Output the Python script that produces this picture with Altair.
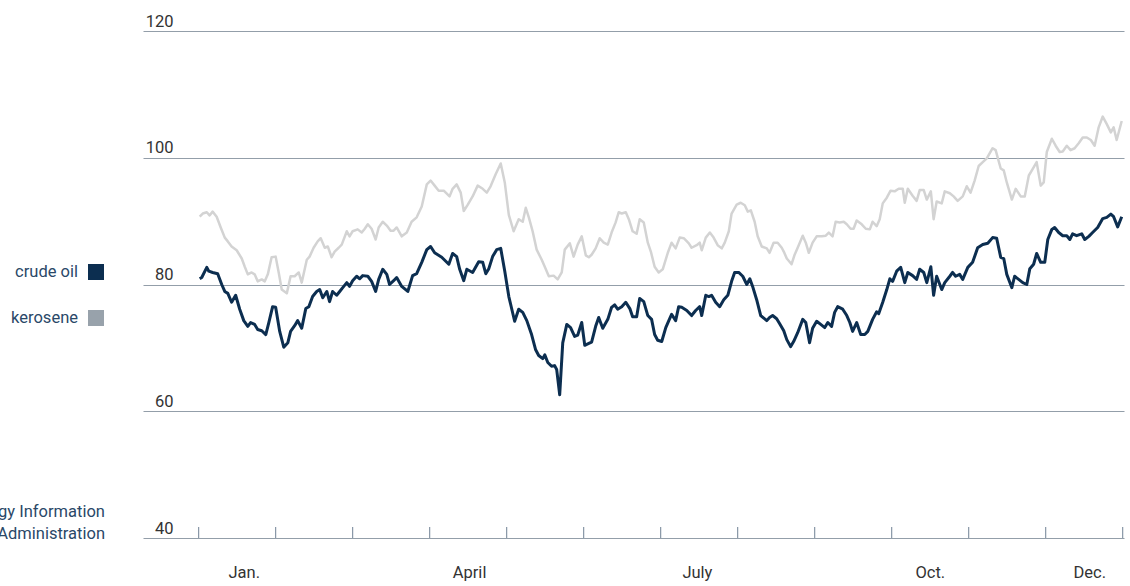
import altair as alt
import pandas as pd

# ---- data ----
crude_day = [0.4, 1.2, 3.2, 4.0, 5.5, 7.5, 9.1, 10.3, 11.5, 13.0, 14.6, 16.2, 17.8, 19.4, 20.5, 22.1, 23.3, 24.9,
             26.5, 27.7, 29.2, 30.4, 32.0, 33.6, 35.2, 36.3, 37.9, 39.1, 40.7, 42.3, 43.5, 45.0, 46.6, 47.8, 49.0,
             50.6, 51.7, 52.9, 54.5, 55.7, 56.9, 58.5, 59.6, 60.8, 62.4, 63.6, 64.8, 66.8, 68.3, 69.9, 71.1, 72.7,
             74.3, 75.4, 77.0, 78.2, 80.2, 82.6, 84.5, 86.1, 88.1, 90.1, 91.6, 93.2, 96.0, 98.8, 100.3, 101.9,
             103.1, 104.7, 105.9, 108.2, 110.6, 112.2, 113.4, 114.6, 116.1, 117.7, 119.3, 120.9, 122.5, 124.8,
             126.4, 128.0, 129.6, 131.5, 133.1, 134.3, 135.9, 136.7, 137.9, 139.4, 140.6, 141.4, 142.6, 143.8,
             145.4, 146.9, 148.5, 149.7, 151.3, 152.5, 154.1, 155.2, 156.8, 158.0, 159.6, 161.6, 163.1, 164.3,
             165.5, 167.1, 168.7, 170.3, 171.4, 173.0, 174.2, 175.8, 177.4, 178.9, 180.1, 181.3, 182.9, 184.5,
             185.7, 186.8, 188.4, 189.6, 190.8, 192.8, 194.7, 196.3, 197.9, 198.7, 200.3, 201.5, 202.6, 204.2,
             205.8, 207.4, 209.0, 210.5, 211.7, 213.3, 214.9, 216.5, 217.7, 218.8, 220.4, 222.0, 224.4, 225.5,
             226.7, 228.3, 229.5, 231.1, 232.3, 233.8, 235.0, 236.6, 238.6, 239.8, 241.3, 242.5, 244.1, 245.7,
             247.3, 248.5, 250.0, 251.2, 252.4, 254.4, 256.0, 257.2, 258.3, 259.9, 261.5, 263.1, 264.3, 266.2,
             267.8, 268.6, 270.2, 271.8, 273.0, 274.1, 275.7, 277.3, 278.9, 280.1, 282.0, 283.6, 284.8, 286.4,
             287.6, 289.2, 290.3, 291.5, 293.5, 294.7, 296.7, 297.8, 299.0, 300.6, 301.8, 303.8, 305.7, 307.7,
             309.7, 311.7, 313.6, 315.2, 316.8, 318.0, 319.2, 321.2, 322.3, 323.9, 325.5, 327.1, 328.3, 329.8,
             331.0, 332.6, 334.2, 335.4, 337.0, 338.1, 339.7, 341.3, 342.9, 344.1, 345.2, 346.8, 348.8, 350.0,
             351.6, 353.1, 355.1, 357.1, 358.7, 360.3, 361.4, 363.0, 364.6]
crude_val = [80.9, 81.1, 82.7, 82.1, 81.9, 81.7, 80.0, 78.9, 78.6, 77.2, 78.3, 76.1, 74.3, 73.4, 74.0, 73.7, 72.9, 72.7,
             72.1, 74.0, 76.5, 76.4, 72.6, 70.1, 70.8, 72.6, 73.5, 74.3, 73.1, 76.2, 76.5, 78.1, 78.9, 79.2, 77.9,
             78.9, 77.3, 78.9, 78.3, 78.9, 79.5, 80.3, 79.7, 80.6, 81.3, 80.9, 81.4, 81.3, 80.5, 78.9, 80.8, 82.4,
             81.6, 80.0, 80.6, 81.1, 79.7, 78.9, 81.4, 81.7, 83.5, 85.5, 86.0, 85.0, 84.3, 83.2, 84.9, 84.4,
             82.4, 80.6, 82.4, 81.9, 83.6, 83.5, 81.7, 82.5, 84.4, 85.5, 85.7, 82.1, 78.1, 74.2,
             76.1, 75.6, 74.3, 72.1, 69.7, 68.8, 68.3, 68.9, 67.7, 67.1, 67.2, 66.6, 62.6, 70.8,
             73.7, 73.2, 71.8, 72.0, 74.0, 70.4, 70.7, 70.9, 73.4, 74.8, 73.1, 74.5, 76.4, 76.8,
             76.1, 76.5, 77.2, 76.2, 74.9, 74.9, 77.8, 77.3, 75.1, 74.5, 72.1, 71.2, 71.0, 73.2,
             74.3, 75.3, 74.3, 76.5, 76.4, 75.9, 75.1, 75.9, 76.5, 75.1, 78.3, 78.1, 78.3, 77.2,
             76.5, 77.6, 78.3, 80.5, 81.9, 81.9, 81.3, 80.0, 80.9, 79.7, 77.6, 75.1, 74.3, 74.8,
             75.1, 74.6, 73.8, 72.7, 71.3, 70.2, 71.0, 72.4, 74.5, 74.0, 70.8, 73.1, 74.2, 73.7,
             73.2, 74.0, 73.4, 75.6, 76.5, 76.1, 75.1, 74.0, 72.6, 74.0, 72.1, 72.1, 72.6, 74.5,
             75.7, 75.4, 77.2, 79.2, 80.9, 80.5, 82.1, 82.7, 80.3, 81.9, 81.4, 80.8, 82.4, 81.9,
             80.3, 82.8, 78.3, 81.3, 79.2, 80.3, 81.3, 81.9, 81.3, 81.6, 80.8, 82.7, 83.5, 85.8,
             86.3, 86.5, 87.4, 87.3, 84.3, 84.1, 81.6, 79.5, 81.3, 80.8, 80.3, 80.0, 82.5, 83.2,
             84.9, 83.5, 83.5, 87.1, 88.7, 89.0, 88.2, 87.7, 87.7, 87.1, 88.0, 87.7, 88.0, 87.1,
             87.6, 88.2, 89.0, 90.4, 90.6, 91.1, 90.7, 89.1, 90.7]

kero_day = [0.4, 1.6, 3.2, 4.3, 5.5, 7.1, 8.7, 10.3, 11.5, 13.0, 15.0, 17.0, 18.2, 19.4, 20.9, 22.1, 23.3, 24.9,
            26.1, 27.3, 28.8, 30.4, 31.6, 32.8, 34.8, 36.3, 37.9, 39.5, 40.7, 42.7, 43.8, 45.4, 47.0, 48.2, 49.8,
            51.0, 52.5, 53.7, 55.3, 56.5, 58.5, 59.6, 60.8, 62.8, 64.4, 65.6, 66.8, 68.3, 69.9, 71.1, 72.7, 74.3,
            75.8, 77.0, 78.2, 80.2, 82.2, 84.1, 86.1, 88.1, 90.1, 91.6, 93.2, 94.8, 96.8, 99.1, 100.3, 101.9,
            103.5, 104.7, 106.3, 108.2, 110.2, 112.2, 113.8, 115.3, 117.3, 119.3, 120.9, 122.5, 124.4, 126.4,
            128.0, 129.2, 130.4, 131.9, 133.5, 135.5, 136.7, 138.3, 140.2, 141.8, 143.4, 144.6, 146.6, 148.1,
            149.7, 151.3, 152.9, 154.1, 155.2, 156.8, 158.4, 160.0, 161.6, 163.1, 164.7, 165.9, 167.1, 168.7,
            169.9, 171.4, 173.0, 174.2, 175.8, 177.4, 178.6, 180.1, 181.7, 183.3, 185.3, 186.8, 188.4, 190.0,
            191.6, 193.6, 194.7, 196.7, 197.9, 198.7, 200.3, 201.9, 203.4, 205.0, 206.6, 207.8, 209.4, 210.5,
            212.5, 214.1, 215.7, 216.9, 218.1, 219.6, 220.8, 222.4, 224.4, 225.5, 227.1, 228.7, 230.3, 231.1,
            232.3, 234.2, 235.4, 236.6, 238.6, 239.8, 241.0, 242.5, 244.1, 246.1, 247.7, 248.9, 250.4, 251.6,
            253.2, 254.8, 256.0, 257.5, 258.7, 259.9, 261.9, 263.5, 265.1, 266.2, 267.8, 269.0, 270.2, 271.8,
            273.3, 274.9, 276.5, 278.1, 278.9, 280.1, 282.0, 283.6, 284.8, 286.4, 287.6, 289.2, 290.3, 291.5,
            293.5, 294.7, 296.7, 298.2, 299.8, 301.8, 303.4, 304.9, 306.5, 308.1, 309.7, 311.3, 313.6, 314.8,
            316.8, 318.0, 319.2, 321.2, 322.7, 324.7, 326.3, 327.9, 329.4, 331.0, 332.6, 333.8, 335.0, 337.0,
            338.5, 340.1, 341.3, 342.9, 344.4, 346.0, 347.6, 349.2, 350.8, 352.4, 353.9, 355.5, 357.1, 358.7,
            360.3, 361.4, 362.6, 364.6]
kero_val = [90.7, 91.2, 91.4, 90.9, 91.5, 90.7, 89.0, 87.4, 86.8, 86.0, 85.4, 84.1, 82.8, 81.6, 81.9, 81.6, 80.5, 80.8,
            80.5, 81.6, 84.3, 84.4, 81.9, 79.2, 78.6, 81.3, 81.3, 81.9, 80.3, 83.9, 84.4, 85.8, 86.8, 87.3, 85.8,
            86.0, 84.3, 85.2, 85.8, 86.3, 88.4, 87.6, 88.4, 88.7, 88.2, 88.8, 89.5, 88.8, 87.1, 89.0, 89.9, 89.3,
            88.5, 88.5, 89.0, 87.6, 88.2, 89.9, 90.6, 92.3, 95.8, 96.4, 95.6, 94.8, 94.8, 93.9, 95.1, 95.8,
            94.5, 91.6, 92.6, 93.9, 95.6, 95.1, 94.5, 95.5, 97.4, 99.1, 96.1, 91.0, 88.4, 90.3,
            89.9, 92.1, 90.6, 88.4, 85.5, 83.9, 82.8, 81.3, 81.4, 80.8, 81.9, 85.5, 86.5, 84.4,
            86.3, 87.6, 84.6, 84.3, 84.7, 85.7, 87.3, 86.6, 86.3, 88.2, 89.8, 91.4, 91.2, 91.4,
            90.3, 88.4, 88.0, 90.3, 89.8, 86.6, 85.2, 82.8, 81.9, 82.4, 85.0, 86.6, 85.7, 87.4,
            87.3, 86.5, 85.8, 86.2, 86.6, 85.4, 87.4, 88.2, 87.4, 86.2, 85.7, 86.6, 88.4, 91.2,
            92.6, 92.9, 92.5, 91.5, 91.7, 89.9, 87.6, 86.0, 85.7, 85.0, 86.6, 86.6, 85.8, 85.2,
            84.1, 83.2, 84.7, 85.8, 87.7, 86.6, 85.0, 86.6, 87.6, 87.6, 87.7, 88.2, 87.6, 89.9,
            89.8, 89.9, 89.5, 88.8, 88.8, 90.1, 89.5, 88.8, 88.7, 89.9, 89.2, 90.3, 92.8, 93.7,
            94.8, 94.7, 95.1, 95.1, 92.9, 95.1, 94.0, 93.2, 94.9, 94.9, 93.4, 94.7, 90.3, 93.1,
            92.8, 94.7, 94.4, 93.9, 93.2, 93.9, 95.5, 94.5, 96.4, 98.7, 99.3, 99.9, 101.5, 101.2,
            98.3, 98.0, 96.1, 93.4, 95.1, 93.9, 93.9, 97.2, 98.2, 99.3, 95.6, 96.1, 100.9, 103.0,
            101.9, 100.9, 101.0, 101.9, 101.2, 101.5, 102.3, 103.2, 103.2, 102.8, 101.9, 104.8, 106.5, 105.3,
            104.0, 104.8, 102.8, 105.8]

y_ticks = [40, 60, 80, 100, 120]
month_bounds = [i * 365 / 12 for i in range(13)]
month_labels = ["Jan.", "April", "July", "Oct.", "Dec."]
month_label_pos = [18, 107, 197, 289, 352]
series_names = ["crude oil", "kerosene"]
source_lines = ["Source: U.S. Energy Information", "Administration"]

# ---- styles ----
W, H = 981, 507
FONT = "Roboto"
FS = 16.5
CRUDE = "#0c2e50"
KERO = "#d3d3d3"
KERO_KEY = "#98a2ab"
TEXT_BLUE = "#2a4868"
GRID = "#939ea9"
BASE = "#6f8194"

df = pd.concat([
    pd.DataFrame({"day": kero_day, "price": kero_val, "series": "kerosene"}),
    pd.DataFrame({"day": crude_day, "price": crude_val, "series": "crude oil"}),
])

xscale = alt.Scale(domain=[-22, 365.5], nice=False, zero=False)
yscale = alt.Scale(domain=[40, 120], nice=False, zero=False)

lines = alt.Chart(df).mark_line(strokeJoin="round").encode(
    x=alt.X("day:Q", scale=xscale,
            axis=alt.Axis(title=None, labels=False, ticks=False, grid=False,
                          domain=True, domainColor=BASE, domainWidth=1.2)),
    y=alt.Y("price:Q", scale=yscale,
            axis=alt.Axis(title=None, values=y_ticks, grid=True, gridColor=GRID, gridWidth=1.2,
                          domain=False, ticks=False, tickSize=0, labelPadding=-30,
                          labelAlign="right", labelBaseline="alphabetic", labelOffset=-5,
                          labelFont=FONT, labelFontSize=FS, labelColor="#333333")),
    color=alt.Color("series:N", scale=alt.Scale(domain=["crude oil", "kerosene"], range=[CRUDE, KERO]),
                    legend=None),
    strokeWidth=alt.StrokeWidth("series:N", scale=alt.Scale(domain=["crude oil", "kerosene"], range=[3, 2.5]),
                                legend=None),
    order=alt.Order("series:N", sort="descending"),
    detail="series:N",
)

ticks = alt.Chart(pd.DataFrame({"d": month_bounds})).mark_rule(color=BASE, strokeWidth=1).encode(
    x=alt.X("d:Q", scale=xscale, axis=None),
    y=alt.value(H - 11),
    y2=alt.value(H),
)

mlabels = alt.Chart(pd.DataFrame({"d": month_label_pos, "t": month_labels})).mark_text(
    font=FONT, fontSize=FS, color="#333333", baseline="middle", align="center"
).encode(
    x=alt.X("d:Q", scale=xscale, axis=None),
    y=alt.value(H + 35),
    text="t:N",
)

one = pd.DataFrame({"k": [0]})
key_crude_sq = alt.Chart(one).mark_square(size=256, color=CRUDE, opacity=1).encode(
    x=alt.value(-47), y=alt.value(241))
key_kero_sq = alt.Chart(one).mark_square(size=256, color=KERO_KEY, opacity=1).encode(
    x=alt.value(-47), y=alt.value(287))
key_crude_t = alt.Chart(one).mark_text(font=FONT, fontSize=FS, color=TEXT_BLUE, align="right",
                                       baseline="middle").encode(
    x=alt.value(-65), y=alt.value(241), text=alt.value(series_names[0]))
key_kero_t = alt.Chart(one).mark_text(font=FONT, fontSize=FS, color=TEXT_BLUE, align="right",
                                      baseline="middle").encode(
    x=alt.value(-65), y=alt.value(287), text=alt.value(series_names[1]))
source = alt.Chart(one).mark_text(font=FONT, fontSize=FS, color=TEXT_BLUE, align="right",
                                  baseline="middle", lineHeight=22).encode(
    x=alt.value(-38), y=alt.value(481), text=alt.value(source_lines))

chart = alt.layer(
    lines, ticks, mlabels, key_crude_sq, key_kero_sq, key_crude_t, key_kero_t, source
).properties(
    width=W, height=H,
    background="white",
    autosize=alt.AutoSizeParams(type="none"),
    padding={"left": 143, "top": 31, "right": 6, "bottom": 48},
).configure_view(strokeWidth=0, stroke="transparent"
).configure_axisY(domain=False)

chart.save("out.html", embed_options={"renderer": "svg", "actions": False})
